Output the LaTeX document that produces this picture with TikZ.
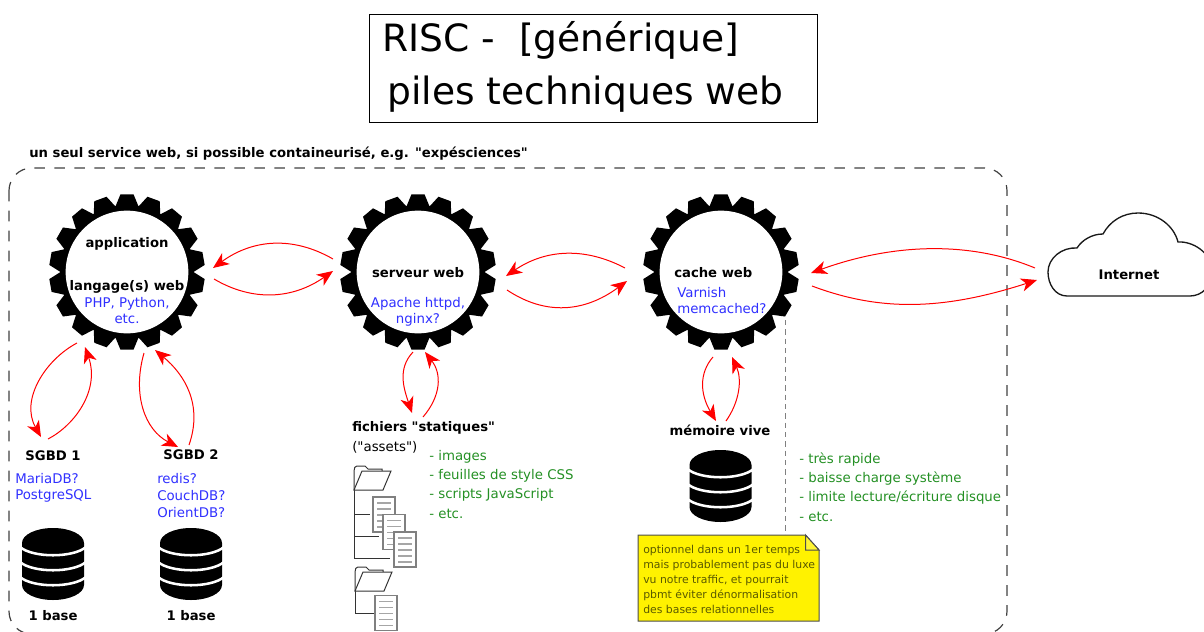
\documentclass[tikz,border=0pt]{standalone}
\usepackage{fontspec}
\setmainfont{DejaVu Sans}[Ligatures=TeXOff]
\usetikzlibrary{arrows.meta}
\definecolor{bleu}{HTML}{3030FF}
\definecolor{vert}{HTML}{249024}
\definecolor{rouge}{HTML}{FF0000}
\definecolor{olive}{HTML}{5A5A00}
\newcommand{\qq}{\symbol{34}}
\tikzset{
  x=0.75pt,y=-0.75pt,
  lbl/.style={inner sep=0pt,text height=0.9em,text depth=0.06em,font=\fontsize{10pt}{11pt}\selectfont},
  bl/.style={lbl,font=\fontsize{9.9pt}{11pt}\selectfont\bfseries,text=black},
  bu/.style={lbl,text=bleu},
  gr/.style={lbl,text=vert},
  nt/.style={lbl,text=olive,anchor=west,font=\fontsize{8.15pt}{10pt}\selectfont},
  arr/.style={draw=rouge,line width=0.75pt,-{Stealth[length=12pt,width=10pt,inset=3.5pt,fill=rouge]}},
  gearface/.style={circle,fill=white,draw=none,inner sep=0pt,minimum size=92pt},
  gear/.pic={
    \fill[black] (0,0) circle (67);
    \foreach \a in {10,30,...,350}{
      \fill[black] (\a-10:66.5) -- (\a-4.8:78) -- (\a+4.8:78) -- (\a+10:66.5) -- cycle;
    }
  },
  db/.pic={
    \fill[black] (-31,15) -- (-31,57) arc[start angle=180,end angle=0,x radius=31,y radius=15] -- (31,15) arc[start angle=0,end angle=-180,x radius=31,y radius=15] -- cycle;
    \foreach \d in {19,34,49}{
      \draw[white,line width=1.9pt] (-33,\d) .. controls (-20,\d+11) and (20,\d+11) .. (33,\d);
    }
  },
  docicon/.pic={
    \draw[fill=white,draw=black!50,line width=0.8pt] (0,0) rectangle (22,35);
    \foreach \d in {6,12,18,24,30}{
      \draw[black!35,line width=0.8pt] (4,\d) -- (18,\d);
    }
  },
  foldericon/.pic={
    \draw[draw=black!80,line width=0.75pt,fill=white] (0,0) -- (0,-19) .. controls (0,-22) and (1,-24) .. (3,-24) -- (11,-24) -- (14,-21) -- (28,-21) -- (28,-19);
    \draw[draw=black!80,line width=0.75pt,fill=white] (0,0) -- (8,-19) -- (37,-19) -- (29,0) -- cycle;
  }
}
\begin{document}
\begin{tikzpicture}
\useasboundingbox (0,0) rectangle (1204,632);
% Title
\node[draw=black,line width=0.75pt,minimum width=336pt,minimum height=81pt,inner sep=0pt] (titlebox) at (593,68) {};
\node[inner sep=0pt,anchor=west,font=\fontsize{28.2pt}{30pt}\selectfont] (t1) at (382,40) {RISC -\ \ [générique]};
\node[inner sep=0pt,anchor=west,font=\fontsize{28.2pt}{30pt}\selectfont] (t2) at (387,94) {piles techniques web};
\node[bl,anchor=west] (caption) at (29,152) {un seul service web, si possible containeurisé, e.g. \qq expésciences\qq};
% Container
\draw[black!75,line width=0.9pt,dash pattern=on 8pt off 7pt,rounded corners=17pt] (9,168) rectangle (1007,634);
\draw[black!50,line width=0.75pt,dash pattern=on 4pt off 3pt] (785,320) -- (785,535);
% Gears
\pic at (127,272) {gear};
\pic at (418,272) {gear};
\pic at (721,272) {gear};
\node[gearface] (app) at (127,272) {};
\node[gearface] (srv) at (418,272) {};
\node[gearface] (cache) at (721,272) {};
\node[bl] (appT) at (127,242) {application};
\node[bl] (lang) at (127,285) {langage(s) web};
\node[bu] (php) at (127,302) {PHP, Python,};
\node[bu] (etc) at (127,318) {etc.};
\node[bl] (srvT) at (418,272) {serveur web};
\node[bu] (apache) at (418,302) {Apache httpd,};
\node[bu] (nginx) at (418,318) {nginx?};
\node[bl,anchor=west] (cacheT) at (674,272) {cache web};
\node[bu,anchor=west] (varnish) at (677,292) {Varnish};
\node[bu,anchor=west] (memc) at (677,308) {memcached?};
% SGBD
\node[bl] (s1) at (53,455) {SGBD 1};
\node[bl] (s2) at (191,454) {SGBD 2};
\node[bu,anchor=west] (maria) at (15,478) {MariaDB?};
\node[bu,anchor=west] (pg) at (15,494) {PostgreSQL};
\node[bu,anchor=west] (redis) at (157,478) {redis?};
\node[bu,anchor=west] (couch) at (157,495) {CouchDB?};
\node[bu,anchor=west] (orient) at (157,512) {OrientDB?};
\pic at (53,528) {db};
\pic at (191,528) {db};
\pic at (720.5,450) {db};
\node[bl] (b1) at (53,615) {1 base};
\node[bl] (b2) at (191,615) {1 base};
% Fichiers
\node[bl,anchor=west] (fich) at (352,426) {fichiers \qq statiques\qq};
\node[lbl,anchor=west] (assets) at (352,446) {(\qq assets\qq)};
\node[gr,anchor=west] (g1) at (429,455) {- images};
\node[gr,anchor=west] (g2) at (429,474) {- feuilles de style CSS};
\node[gr,anchor=west] (g3) at (429,493) {- scripts JavaScript};
\node[gr,anchor=west] (g4) at (429,513) {- etc.};
\draw[black!80,line width=0.75pt] (354,490) -- (354,558) -- (390,558) (354,514) -- (370,514) (354,536) -- (379,536);
\pic at (354,490) {foldericon};
\pic at (373,497) {docicon};
\pic at (383,514.5) {docicon};
\pic at (394,532) {docicon};
\draw[black!80,line width=0.75pt] (355,591) -- (355,613) -- (375,613);
\pic at (355,591) {foldericon};
\pic at (375,595.5) {docicon};
% Memoire
\node[bl] (mem) at (720,430) {mémoire vive};
\node[gr,anchor=west] (r1) at (799,458) {- très rapide};
\node[gr,anchor=west] (r2) at (799,477) {- baisse charge système};
\node[gr,anchor=west] (r3) at (799,496) {- limite lecture/écriture disque};
\node[gr,anchor=west] (r4) at (799,516) {- etc.};
% Note
\draw[black!70,fill=yellow,line width=0.75pt] (638,535) -- (805.5,535) -- (819,550) -- (819,621) -- (638,621) -- cycle;
\draw[black!70,fill=yellow!80!white,line width=0.75pt] (805.5,535) -- (805.5,550) -- (819,550) -- cycle;
\node[nt] (n1) at (643,548) {optionnel dans un 1er temps};
\node[nt] (n2) at (643,563) {mais probablement pas du luxe};
\node[nt] (n3) at (643,578) {vu notre traffic, et pourrait};
\node[nt] (n4) at (643,593) {pbmt éviter dénormalisation};
\node[nt] (n5) at (643,608) {des bases relationnelles};
% Cloud
\draw[black!90,line width=1pt,fill=white] (1067,296) .. controls (1055,296) and (1048,284) .. (1048,272) .. controls (1048,258) and (1062,247) .. (1077,248) .. controls (1082,240) and (1092,234) .. (1103,234) .. controls (1110,221) and (1123,213) .. (1138,213) .. controls (1158,213) and (1174,226) .. (1178,242) .. controls (1192,241) and (1212,252) .. (1212,272) .. controls (1212,286) and (1202,296) .. (1190,296) -- cycle;
\node[bl] (inet) at (1129,274) {Internet};
% Connector ends
\coordinate (a1) at (77,343); \coordinate (s1a) at (41,437);
\coordinate (s1b) at (48,439); \coordinate (a2) at (85,347);
\coordinate (a3) at (144,353); \coordinate (s2a) at (178,447);
\coordinate (s2b) at (189,445); \coordinate (a4) at (155,350);
\coordinate (v1) at (333,259); \coordinate (a5) at (213,268);
\coordinate (a6) at (214,279); \coordinate (v2) at (333,271);
\coordinate (c1) at (625,268); \coordinate (v3) at (506,276);
\coordinate (v4) at (507,290); \coordinate (c2) at (627,281);
\coordinate (i1) at (1035,268); \coordinate (c3) at (811,273);
\coordinate (c4) at (812,286); \coordinate (i2) at (1037,280);
\coordinate (v5) at (413,352); \coordinate (f1) at (412,413);
\coordinate (f2) at (423,417); \coordinate (v6) at (425,352);
\coordinate (c5) at (713,357); \coordinate (m1) at (716,421);
\coordinate (m2) at (726,421); \coordinate (c6) at (732,357);
% Connectors
\draw[arr] (a1) .. controls (45,360) and (20,400) .. (s1a);
\draw[arr] (s1b) .. controls (75,425) and (100,390) .. (a2);
\draw[arr] (a3) .. controls (132,395) and (145,430) .. (s2a);
\draw[arr] (s2b) .. controls (203,405) and (185,375) .. (a4);
\draw[arr] (v1) .. controls (293,236) and (253,239) .. (a5);
\draw[arr] (a6) .. controls (253,302) and (293,299) .. (v2);
\draw[arr] (c1) .. controls (585,247) and (546,249) .. (v3);
\draw[arr] (v4) .. controls (546,316) and (585,312) .. (c2);
\draw[arr] (i1) .. controls (970,241) and (894,243) .. (c3);
\draw[arr] (c4) .. controls (881,312) and (944,310) .. (i2);
\draw[arr] (v5) .. controls (397,369) and (404,389) .. (f1);
\draw[arr] (f2) .. controls (441,396) and (442,374) .. (v6);
\draw[arr] (c5) .. controls (699,373) and (700,394) .. (m1);
\draw[arr] (m2) .. controls (740,401) and (742,379) .. (c6);
\end{tikzpicture}
\end{document}
